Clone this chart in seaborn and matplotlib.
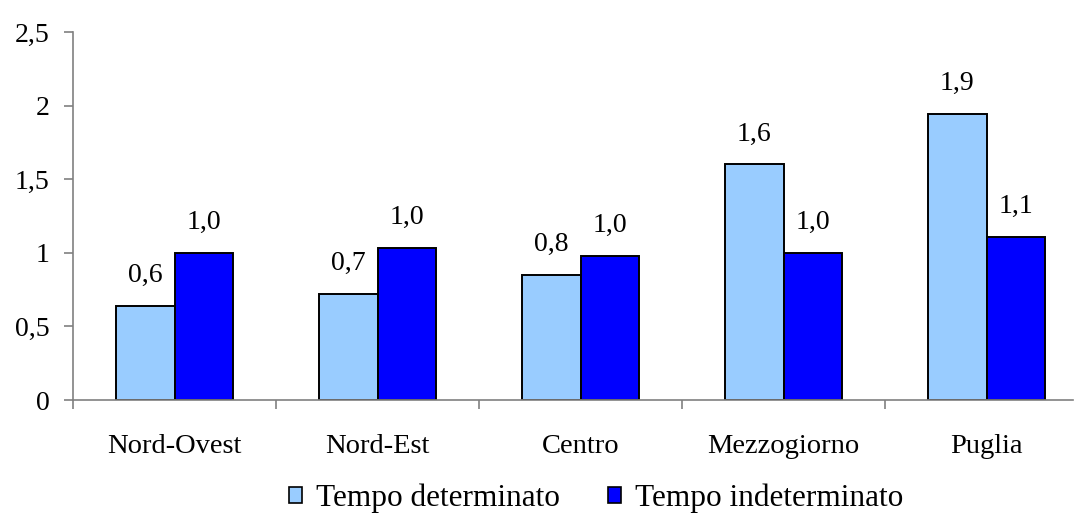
import matplotlib
matplotlib.use("Agg")
import matplotlib.pyplot as plt
import seaborn as sns
import pandas as pd
from matplotlib.ticker import FuncFormatter, FixedLocator
from matplotlib.patches import Patch

regions = ['Nord-Ovest', 'Nord-Est', 'Centro', 'Mezzogiorno', 'Puglia']
series = ['Tempo determinato', 'Tempo indeterminato']
determinato = [0.64, 0.72, 0.85, 1.60, 1.94]
indeterminato = [1.00, 1.03, 0.98, 1.00, 1.11]
labels_det = ['0,6', '0,7', '0,8', '1,6', '1,9']
labels_indet = ['1,0', '1,0', '1,0', '1,0', '1,1']
colors = ['#99CCFF', '#0000FF']

df = pd.DataFrame({
    'regione': regions * 2,
    'tipo': [series[0]] * 5 + [series[1]] * 5,
    'valore': determinato + indeterminato,
})

sns.set_style('white')
plt.rcParams['font.family'] = ['Liberation Serif', 'DejaVu Serif']
plt.rcParams['text.color'] = 'black'

fig = plt.figure(figsize=(10.74, 5.13), dpi=100)
ax = fig.add_axes([73.3 / 1074, 1 - 400 / 513, (1073 - 73.3) / 1074, (400 - 32) / 513])

sns.barplot(data=df, x='regione', y='valore', hue='tipo', order=regions,
            hue_order=series, palette=colors, width=0.577, gap=0,
            edgecolor='black', linewidth=1.4, saturation=1, legend=False, ax=ax)

# etichette dei valori sopra le barre
for cont, labs in zip(ax.containers, [labels_det, labels_indet]):
    ax.bar_label(cont, labels=labs, padding=13, fontsize=20, color='black')

ax.set_xlim(-0.5, 4.425)
ax.set_ylim(0, 2.5)
ax.set_yticks([0, 0.5, 1, 1.5, 2, 2.5])
ax.yaxis.set_major_formatter(FuncFormatter(lambda v, p: ('%g' % v).replace('.', ',')))
ax.set_xlabel('')
ax.set_ylabel('')

for s in ['top', 'right']:
    ax.spines[s].set_visible(False)
for s in ['left', 'bottom']:
    ax.spines[s].set_color('#808080')
    ax.spines[s].set_linewidth(1.2)

# tacche tra le categorie, etichette al centro
ax.xaxis.set_minor_locator(FixedLocator([-0.5, 0.5, 1.5, 2.5, 3.5]))
ax.tick_params(axis='x', which='major', length=0, pad=24.3, labelsize=20.5, labelcolor='black')
ax.tick_params(axis='x', which='minor', length=6.5, width=1.2, color='#808080', bottom=True)
ax.tick_params(axis='y', which='major', length=6.5, width=1.2, color='#808080', left=True,
               pad=10.5, labelsize=20, labelcolor='black')

handles = [Patch(facecolor=c, edgecolor='black', linewidth=1.2) for c in colors]
fig.legend(handles, series, loc='center', bbox_to_anchor=(596 / 1074, 0.029), ncol=2,
           frameon=False, fontsize=22.5, handlelength=0.4, handleheight=0.4,
           handletextpad=0.45, columnspacing=1.55, borderpad=0, labelcolor='black')

fig.savefig('out.png', dpi=100)
